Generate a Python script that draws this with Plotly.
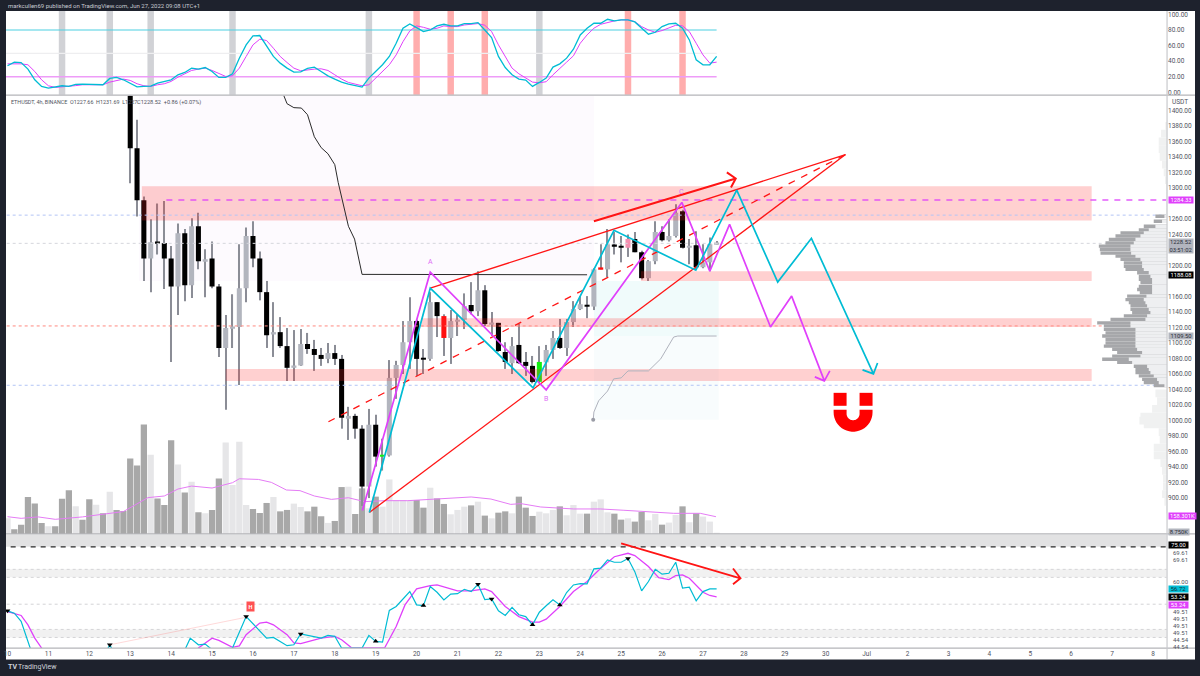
import numpy as np
import plotly.graph_objects as go

# ---------------- data (bar index: 6 bars per day, 0 = Jun 10 00:00) ----------------
first_candle = 18
opens = [1500,1351,1284,1209,1231,1229,1209,1173,1241.5,1174.6,1250.5,1206,1209,1173,1093.6,1119.3,1120.6,1170.7,1238,1209,1165.6,1111,1114,1096,1068,1071,1098.7,1092.3,1084.6,1079.5,1087,1079.5,1003.6,1006,989.5,914.9,994.6,953.5,955,1055,1071.7,1101,1128.3,1080,1079.5,1152.7,1134.7,1106.5,1128,1130,1149,1141,1168,1124.4,1126,1088.4,1074,1097.5,1075.6,1070.5,1049.9,1075,1091,1106.5,1093.6,1127,1143.7,1149,1147,1197,1195,1227,1224.7,1223,1234,1217,1183.6,1205.5,1243,1232.5,1238,1270,1223,1226,1197.7,1204,1227.66]
highs = [1510,1388,1289,1259.5,1280,1283,1225,1254,1247,1261,1268,1221,1231,1176,1136,1163,1227.3,1249,1257,1218,1180,1152.7,1133.4,1119.3,1116.7,1118,1113,1104,1093.6,1100,1097.5,1084.6,1017.7,1008.7,994,1015,1007.5,976.6,1078,1077,1128.3,1159,1130,1092.3,1165.6,1152.7,1137,1142.5,1137,1164,1178.5,1192.6,1174.6,1140,1126,1101,1107.7,1124.4,1088.4,1083.3,1096,1097.5,1115.5,1131,1131,1154,1160.5,1160.5,1196.4,1227.3,1247,1243,1238,1240,1243,1219,1207,1257,1250.5,1259.5,1279,1272,1234,1244,1227.3,1236,1231.69]
lows = [1306,1263,1180,1165.6,1214,1169.5,1075.6,1136,1154,1158,1195,1159,1170.7,1082,1013.9,1093.6,1046,1152.7,1197.7,1155,1093.6,1082,1093.6,1051,1051,1070.5,1086,1064,1070.5,1074,1071.7,989.5,975,976.6,890,900,940.6,935.5,953.5,1028,1060,1066.6,1057.6,1060,1077,1107.7,1083.3,1073,1109,1118,1137,1134.7,1121.9,1109,1088.4,1066.6,1060,1073,1057.6,1048,1048,1057.6,1079.5,1092.3,1083.3,1120.6,1142.5,1132,1142.5,1195,1185,1214,1204,1211,1217,1182,1180,1201.6,1231,1231,1236,1222,1201.6,1195,1196.4,1192.6,1227]
closes = [1351,1284,1209,1230,1229,1209,1173,1241.5,1174.6,1250.5,1205.5,1208,1173,1093.6,1119.3,1120.6,1170.7,1238,1209,1165.6,1110,1114,1096,1068,1071,1098.7,1092.3,1084.6,1079.5,1087,1079.5,1003.6,1006,989.5,914.9,994.6,953.5,955,1055,1071.7,1101,1128.3,1079.5,1078.5,1152.7,1134.7,1106.5,1128.3,1130,1147.6,1141,1168,1124.4,1126,1089.7,1075.6,1096,1074,1070.5,1049.9,1075.6,1091,1106.5,1093.6,1127,1143.7,1150,1147,1195,1195.5,1227.3,1224.7,1223,1234,1217,1183.6,1205.5,1243,1232.5,1238,1268,1223,1225,1197.7,1204,1227.3,1228.52]
special_candles = {64: "#ff1010", 78: "#10f010", 87: "#ff1010", 91: "#f48fb1", 55: "#10f010"}

volumes = [143,43,85,339,278,101,70,70,323,400,253,131,317,268,189,387,220,210,692,628,1003,726,326,265,860,637,381,479,198,189,220,509,839,448,845,265,229,192,284,339,207,220,278,247,207,250,162,101,119,430,433,183,418,235,342,250,500,311,311,311,311,241,424,326,275,180,220,250,262,296,168,143,195,207,189,342,241,165,204,189,220,253,171,265,186,186,296,317,198,186,131,143,113,201,125,183,85,104,174,253,107,189,159,113,5]
volume_light_bars = [0,6,10,13,15,21,25,27,29,32,33,34,35,39,42,43,47,50,53,55,56,57,58,59,62,65,66,67,69,71,74,78,79,80,82,83,84,86,87,88,91,94,95,97,98,100,102,103,104]
vol_ma_x = [0,2,4.5,7,11,14,17,20.6,23,25,27,30,33,34,36.8,38.7,40.9,42.9,45,47.5,50,52.4,55.3,58.7,63.6,68,70.9,73.8,75.3,78.2,83,87,90.4,95.3,97.7,101.6,103.9]
vol_ma_y = [158,143,156,134,156,180,205,333,348,412,439,421,470,506,500,473,403,397,348,317,332,296,305,305,326,339,320,271,278,247,229,229,217,198,189,189,158]

stoch_k = [34,38.7,38.2,29.7,16,7.5,5.3,6.6,8.3,7.5,10,10.5,10.5,10,9.6,17.7,19,16,11.8,7,7.5,7.9,11.8,13.5,16,22.4,25.4,31,29.7,31.8,26.7,19,19,23.7,43.8,60.9,72.4,72.9,58.8,46,37.4,31,25.9,26.3,30.6,32.3,26.7,21.1,16.9,13,10.5,8.3,6.6,18.2,26.7,35.3,46,63,82.3,87.8,83.1,78,80.1,85.3,87.4,85.3,85.3,88.3,88.3,89.5,80.1,70.3,46,31.8,22.4,16.9,15.6,7.5,12.6,18.2,32.3,36.5,43.8,55.3,73.7,82.3,88.7,88.7,93.8,91.7,93,93,90.4,82.3,74.6,77.1,84.4,87.8,88.7,82.3,67.3,41.7,35.3,35.3,46]
stoch_d = [36.5,36.5,36.5,35.3,26.7,16,8.3,6.2,6.8,7.5,8.5,9.6,9.8,10,9.6,13,14.7,16.9,15.2,10.9,8.3,7.5,9.6,10.9,13.9,19.4,23.7,28,29.7,31,28,23.7,20.3,21.2,31,46,60.9,68.2,66.5,56.6,46,38.2,31,27.6,28.9,29.7,30.1,28,22.4,16.9,12.6,10,8.3,9.6,18.6,26.7,35.3,48,65,78.9,85.3,83.5,81,82.3,85.3,84.4,84.4,86.5,87.4,88.3,86.1,78,60.9,46,31,23.7,18.2,13,12.2,13.5,22.4,31,38.7,46.8,63,73.7,82.3,87.4,90,91.7,93,93,90.8,84.4,80.1,77.1,79.3,82.3,86.1,85.3,78,63,48,37.4,38.7]
stoch_levels = [80, 50, 20]
stoch_gray_bars = [8,15,21,33,53,78]
stoch_red_bars = [60,65,70,91,99]

rsi_x = [0,1,2,3,4,10,14.6,15,15.4,20,25,26,26.8,28,29,30,33,35,38,39,41,42,43,46,47,48,49,52,53,54,55,56,57,59,60,61,62,63,64,65,66,67,68,69,70,71,72,73,74,75,76,77,78,79,80,81,82,83,84,85,86,87,88,89,90,91,92,93,94,95,96,97,98,99,100,101,102,103,104]
rsi_v = [47.1,46.1,42.5,33,25,20,30,32.3,30,22,26,30,35.2,32.3,32.6,30.2,30.9,44.6,35.2,35.5,31.9,32.3,37,35.2,36.4,36,30.9,30.9,36.4,33.8,33.5,47.3,49,55.5,49.7,49.4,57.7,55.2,51.9,54.4,54.6,56.5,55.5,58.7,52,52.3,47.1,45.1,48.6,45.4,44.6,41,46.5,49.3,51.9,49.7,55.1,58.4,59,58.9,65.4,65.7,69.3,68.3,68.3,69.9,64.2,55.8,59.9,65.2,63.1,63.5,68.3,57,57.4,51.5,55.5,56.7,56.72]
rsi_ma_x = [0,2,3,4,5,6,27,28,30,31,33,34,35,37,38,39,41,42,43,46,48,49,50.5,55.3,57,58.3,60,62,63,66,68,70,71,73,75,77,78,79,81,83,85,87,89,91,92,94,95.5,97,98,99,100,102,103,104]
rsi_ma_v = [46.8,45.1,41,35.2,30.9,25,25,30.9,35.2,34.2,31.2,31.8,36.7,41.8,42.2,41,36.7,33.1,32.8,35.2,36,34.5,30.9,30.9,40.3,49.7,56.7,58.1,58.4,55.8,55.8,56.7,55.5,49,44.6,42.2,42.2,43.5,49,55.5,59.9,65.7,70.7,72.2,71.2,66.4,61.6,60.7,62.5,62.8,61.3,55.2,53.8,53.24]
pivot_down_x = [0,15,35,43,69,71,91]
pivot_down_y = [47.1,32.3,44.6,37,58.7,52.3,69.9]
pivot_up_x = [54,61,77,81]
pivot_up_y = [33.8,49.4,41,49.7]

# volume profile: price rows, light and dark widths
vp_price = [1263.5,1257,1250.6,1246,1242,1238,1233.6,1229,1225,1220.6,1216,1212,1208,1203.4,1199,1195,1190.6,1186,1182,1178,1173,1169,1165,1160.5,1156,1152,1148,1143.4,1139,1135,1130.5,1126,1122,1117.6,1113,1109,1104.7,1100,1096,1092,1088,1083,1079,1075,1070,1066,1062,1057.6,1053,1049,1045]
vp_light = [8,15,35,55,70,80,95,100,110,110,108,95,80,75,75,70,55,50,45,45,45,45,45,62,70,65,60,55,50,60,65,110,110,95,95,95,95,95,95,90,75,80,115,105,60,55,50,40,30,25,8]
vp_dark = [27,25,35,30,70,75,80,85,95,92,92,60,60,55,55,55,35,35,40,35,40,45,37,58,55,50,50,55,55,70,105,100,80,95,90,100,90,90,95,75,75,85,80,45,40,40,45,45,45,45,32]
vp_hi_price = [1380,1370,1360,1350,1340,1330,1320,1310,1300,1290,1280,1270,1035,1025,1015,1005,1000,995,985,975,965,955,945,935,925,915,905,895,885]
vp_hi_light = [5,18,25,25,22,15,10,6,2,2,2,2,35,30,45,80,83,70,25,22,40,40,20,15,12,12,15,8,2]

# price levels, zones and hand drawings
price_ticks = [1400,1380,1360,1340,1320,1300,1260,1240,1200,1160,1140,1120,1100,1080,1060,1040,1020,1000,980,960,940,920,900]
zones = [(19.7,159,1258,1302),(92.9,159,1180,1192.6),(60.7,159,1120.6,1132),(32,159,1051,1066.6)]
level_lines = [(1264.9,"#b3c5f5"),(1228.5,"#d5d6dc"),(1122,"#ff8a80"),(1045.5,"#b3c5f5")]
vwap_x = [40.3,41,42,43.1,44,45,46,47,48,48.5,50,50.9,52,85]
vwap_y = [1424,1408.6,1403.5,1403,1394.4,1366,1352,1344,1330,1307,1250.5,1234,1188.5,1188]
gray_x = [85.9,86,86.7,88,88.9,90,91,94,95.8,97.7,98.3,104]
gray_y = [1001,1011,1025.5,1038,1053.7,1055,1064,1064,1079.5,1107.7,1109,1109]
wave_cyan_x = [53.07,62,77.08,88.95,100.95,106.95,112.96,117.9,127,125.4,127,127.6]
wave_cyan_y = [881.5,1170.7,1042.2,1245.3,1193.9,1297.1,1178.5,1235,1060.2,1065.3,1060.2,1074.3]
wave_mag_x = [52.05,62,79,98.9,103,105.9,111.9,115,119.8,118.4,119.8,120.6]
wave_mag_y = [884,1191.3,1039.6,1281.3,1192.6,1253,1120.6,1160.5,1051.2,1056.3,1051.2,1064]
wedge_apex = (122.9,1343)

day_ticks = list(range(0,21*6+1,6))+[126+6*k for k in range(1,8)]
day_text = [str(d) for d in range(10,31)]+["Jul"]+[str(d) for d in range(2,9)]

# ---------------- figure ----------------
W,H = 1200,676
XL,XR = 4,1167
fy = lambda y: 1-y/H
fig = go.Figure()

# volume (base plot of price pane)
vc = ["#e6e6e8" if i in volume_light_bars else "#a8a8a8" for i in range(len(volumes))]
fig.add_bar(x=list(range(len(volumes))), y=volumes, marker=dict(color=vc,line_width=0), width=0.92, xaxis="x", yaxis="y2")
fig.add_scatter(x=vol_ma_x,y=vol_ma_y,mode="lines",line=dict(color="#e57cf5",width=1),xaxis="x",yaxis="y2")

# stoch pane
fig.add_bar(x=stoch_gray_bars,y=[112]*len(stoch_gray_bars),base=-6,width=0.95,marker=dict(color="rgba(120,123,134,0.34)",line_width=0),xaxis="x",yaxis="y")
fig.add_bar(x=stoch_red_bars,y=[112]*len(stoch_red_bars),base=-6,width=0.95,marker=dict(color="rgba(255,60,60,0.42)",line_width=0),xaxis="x",yaxis="y")
for lv,c,w in zip(stoch_levels,["#4dd0e1","#eeeef0","#ee9cf8"],[1.2,1.2,1.6]):
    fig.add_scatter(x=[-1,104],y=[lv,lv],mode="lines",line=dict(color=c,width=w),xaxis="x",yaxis="y")
idx = list(range(len(stoch_k)))
fig.add_scatter(x=idx,y=stoch_d,mode="lines",line=dict(color="#e040fb",width=1),xaxis="x",yaxis="y")
fig.add_scatter(x=idx,y=stoch_k,mode="lines",line=dict(color="#00bcd4",width=1.3),xaxis="x",yaxis="y")

# candles
ci = [first_candle+k for k in range(len(opens))]
colors = []
for i,o,c in zip(ci,opens,closes):
    colors.append(special_candles.get(i, "#000000" if c<o else "#b2b5be"))
body_lo = [min(o,c) for o,c in zip(opens,closes)]
body_h = [max(abs(o-c),2.0) for o,c in zip(opens,closes)]
fig.add_bar(x=ci,y=[h-l for h,l in zip(highs,lows)],base=lows,width=0.16,marker=dict(color="#8b8d96",line_width=0),xaxis="x",yaxis="y3")
fig.add_bar(x=ci,y=body_h,base=body_lo,width=0.74,marker=dict(color=colors,line_width=0),xaxis="x",yaxis="y3")

# zones over candles
for x0,x1,p0,p1 in zones:
    fig.add_scatter(x=[x0,x1,x1,x0,x0],y=[p0,p0,p1,p1,p0],mode="lines",fill="toself",fillcolor="rgba(255,40,40,0.22)",line_width=0,xaxis="x",yaxis="y3")
for p,c in level_lines:
    fig.add_scatter(x=[-1,171],y=[p,p],mode="lines",line=dict(color=c,width=1,dash="dot"),xaxis="x",yaxis="y3")
fig.add_scatter(x=[23.3,171],y=[1284.33,1284.33],mode="lines",line=dict(color="#e040fb",width=1.6,dash="6px,6px"),opacity=0.85,xaxis="x",yaxis="y3")
fig.add_scatter(x=vwap_x,y=vwap_y,mode="lines",line=dict(color="#2a2a2a",width=1),xaxis="x",yaxis="y3")
fig.add_scatter(x=gray_x,y=gray_y,mode="lines",line=dict(color="#b0b3bd",width=1),xaxis="x",yaxis="y3")
fig.add_scatter(x=gray_x[:1],y=gray_y[:1],mode="markers",marker=dict(color="#9a9ca6",size=4),xaxis="x",yaxis="y3")

# red drawings
red = "#ff1414"
fig.add_scatter(x=[53.07,wedge_apex[0]],y=[881.5,wedge_apex[1]],mode="lines",line=dict(color=red,width=1.3),xaxis="x",yaxis="y3")
fig.add_scatter(x=[62,wedge_apex[0]],y=[1170.7,wedge_apex[1]],mode="lines",line=dict(color=red,width=1.3),xaxis="x",yaxis="y3")
fig.add_scatter(x=[47.07,wedge_apex[0]],y=[998.5,wedge_apex[1]],mode="lines",line=dict(color=red,width=1.3,dash="7px,7px"),xaxis="x",yaxis="y3")
fig.add_scatter(x=[86,106.8,105.5,106.8,106.1],y=[1257,1312.2,1320,1312.2,1300.6],mode="lines",line=dict(color=red,width=2),xaxis="x",yaxis="y3")
fig.add_scatter(x=wave_mag_x,y=wave_mag_y,mode="lines",line=dict(color="#e040fb",width=1.7),xaxis="x",yaxis="y3")
fig.add_scatter(x=wave_cyan_x,y=wave_cyan_y,mode="lines",line=dict(color="#00bcd4",width=1.7),xaxis="x",yaxis="y3")

# volume profile
fig.add_bar(y=vp_price,x=[a+b for a,b in zip(vp_light,vp_dark)],orientation="h",width=4.3,marker=dict(color="#a6a7aa",line_width=0),xaxis="x4",yaxis="y3")
fig.add_bar(y=vp_price,x=vp_light,orientation="h",width=4.3,marker=dict(color="#eeeff1",line_width=0),xaxis="x4",yaxis="y3")
fig.add_bar(y=vp_hi_price,x=vp_hi_light,orientation="h",width=10,marker=dict(color="#f0f1f1",line_width=0),xaxis="x4",yaxis="y3")

# RSI pane
for top,bot,c in [(80.5,75,"#e2e2e3"),(65.2,61.7,"#f1f1f1"),(39,35.5,"#f1f1f1")]:
    fig.add_scatter(x=[-1,170,170,-1,-1],y=[bot,bot,top,top,bot],mode="lines",fill="toself",fillcolor=c,line_width=0,xaxis="x",yaxis="y4")
for lv in [65.2,61.7,50,39,35.5]:
    fig.add_scatter(x=[-1,170],y=[lv,lv],mode="lines",line=dict(color="#d4d4d6",width=1,dash="dot"),xaxis="x",yaxis="y4")
fig.add_scatter(x=[-1,170],y=[75,75],mode="lines",line=dict(color="#2a2a2a",width=1.2,dash="5px,5px"),xaxis="x",yaxis="y4")
fig.add_scatter(x=[15,35],y=[32.3,44.3],mode="lines",line=dict(color="rgba(255,82,82,0.22)",width=1),xaxis="x",yaxis="y4")
fig.add_scatter(x=rsi_ma_x,y=rsi_ma_v,mode="lines",line=dict(color="#e040fb",width=1.3),xaxis="x",yaxis="y4")
fig.add_scatter(x=rsi_x,y=rsi_v,mode="lines",line=dict(color="#00bcd4",width=1.2),xaxis="x",yaxis="y4")
fig.add_scatter(x=pivot_down_x,y=pivot_down_y,mode="markers",marker=dict(symbol="triangle-down",color="#000",size=5),xaxis="x",yaxis="y4")
fig.add_scatter(x=pivot_up_x,y=pivot_up_y,mode="markers",marker=dict(symbol="triangle-up",color="#000",size=5),xaxis="x",yaxis="y4")
fig.add_scatter(x=[90,107.5,106.4,107.5,106.4],y=[76.5,61.3,65.6,61.3,58.7],mode="lines",line=dict(color=red,width=1.8),xaxis="x",yaxis="y4")

# magnet (decoration placed in pixel space on paper)
px = lambda x: x/W
def arc(cx,cy,r,a0,a1,n=24):
    t = np.radians(np.linspace(a0,a1,n))
    return [(cx+r*np.cos(a),cy+r*np.sin(a)) for a in t]
pts = [(833,411)]+arc(852.5,413.5,19.5,180,0)[0:0]+[(cx,cy) for cx,cy in arc(852.5,413.5,19.5,180,0)]+[(872,411),(859,411)]+arc(852.5,415,6.5,0,180)+[(846,411)]
magnet = "M "+" L ".join(f"{px(x):.5f},{fy(y):.5f}" for x,y in pts)+" Z"
shapes = [
    dict(type="rect",xref="paper",yref="paper",x0=XL/W,x1=1195/W,y0=fy(661.5),y1=fy(11),fillcolor="#ffffff",line_width=0,layer="below"),
    dict(type="rect",xref="x",yref="y3",x0=19.3,x1=86,y0=1180,y1=1419,fillcolor="#fdfafe",line_width=0,layer="below"),
    dict(type="rect",xref="x",yref="y3",x0=86,x1=104.3,y0=1109,y1=1180,fillcolor="#f0fbfb",line_width=0,layer="below"),
    dict(type="rect",xref="x",yref="y3",x0=86,x1=104.3,y0=1001,y1=1109,fillcolor="#f8fcfd",line_width=0,layer="below"),
    dict(type="path",xref="paper",yref="paper",path=magnet,fillcolor="#ff0000",line_width=0),
    dict(type="rect",xref="paper",yref="paper",x0=833/W,x1=846/W,y0=fy(407),y1=fy(394),fillcolor="#ff0000",line_width=0),
    dict(type="rect",xref="paper",yref="paper",x0=859/W,x1=872/W,y0=fy(407),y1=fy(394),fillcolor="#ff0000",line_width=0),
]
for y in [95.5,535.5,650]:
    shapes.append(dict(type="line",xref="paper",yref="paper",x0=XL/W,x1=1195/W,y0=fy(y),y1=fy(y),line=dict(color="#b4b5b9",width=1.2)))
shapes.append(dict(type="line",xref="paper",yref="paper",x0=XR/W,x1=XR/W,y0=fy(661),y1=fy(11),line=dict(color="#c8c9cc",width=1.2)))

FONT = "Roboto"
ann = []
def note(text,x,y,size=6,color="#50535e",anchor="left",**kw):
    ann.append(dict(text=text,x=x/W,y=fy(y),xref="paper",yref="paper",xanchor=anchor,yanchor="middle",showarrow=False,font=dict(size=size,color=color,family=FONT),**kw))
note("markcullen69 published on TradingView.com, Jun 27, 2022 09:08 UTC+1",4,6,6,"#c9cbd2")
note("ETHUSDT, 4h, BINANCE  O1227.66  H1231.69  L1227.",7,102.5,5.4,"#50535e")
note("C1228.52&nbsp;&nbsp;+0.86 (+0.07%)",133,102.5,5.6,"#50535e")
note("<b>TV</b>",4,669,7,"#d1d4dc")
note("TradingView",14,669,7,"#d1d4dc")
def tag(text,y,bg,fg="#ffffff",w=24):
    ann.append(dict(text=text,x=1167.5/W,y=fy(y),xref="paper",yref="paper",xanchor="left",yanchor="middle",showarrow=False,bgcolor=bg,width=w,borderpad=0,align="center",font=dict(size=5.8,color=fg,family=FONT)))
tag("1284.33",201,"#e040fb")
tag("1228.52<br>03:51:02",247,"#b2b5be","#2a2e39")
tag("1188.08",276,"#000000")
tag("1109.50",337,"#b2b5be","#2a2e39")
tag("158.301K",518,"#e040fb",w=27)
tag("8.750K",534,"#b2b5be","#2a2e39",w=20)
tag("75.00",547,"#000000",w=19)
tag("56.72",591,"#00bcd4",fg="#12343a",w=19)
tag("53.24",599,"#000000",w=19)
tag("53.24",606.5,"#e040fb",w=19)
note("USDT",1170,102,6.5,"#50535e")
for txt,y in [("69.61",554),("69.61",561),("60.00",583),("49.51",613),("49.51",620),("49.51",627),("49.51",634),("44.54",641),("44.54",648)]:
    note(txt,1171,y,6,"#50535e")
for t,x,y in [("A",429,263),("B",545,400),("C",681,193)]:
    note(t,x,y,7,"#e06cf5",anchor="center")
ann.append(dict(text="<b>H</b>",x=244.3/W,y=fy(613.7),xref="paper",yref="paper",showarrow=False,bgcolor="#ff5252",borderpad=1.5,font=dict(size=5.5,color="#fff",family=FONT)))

tickfont = dict(size=6.5,color="#50535e",family=FONT)
xr = [(XL-5.5)/6.83,(XR-5.5)/6.83]
layout = dict(
    width=W,height=H,margin=dict(l=0,r=0,t=0,b=0),autosize=False,
    paper_bgcolor="#1e222d",plot_bgcolor="rgba(0,0,0,0)",showlegend=False,barmode="overlay",hovermode=False,
    shapes=shapes,annotations=ann,font=dict(family=FONT),
    xaxis=dict(domain=[XL/W,XR/W],range=xr,anchor="y4",tickvals=day_ticks,ticktext=day_text,tickfont=tickfont,ticks="",showgrid=False,zeroline=False,showline=False,ticklen=0),
    xaxis4=dict(overlaying="x",anchor="y3",range=[(XR-XL)*3,0],visible=False),
    yaxis=dict(domain=[fy(95),fy(11)],range=[-3.2,104.5],side="right",anchor="x",tickvals=[0,20,40,60,80,100],tickformat=".2f",tickfont=tickfont,showgrid=False,zeroline=False,ticks=""),
    yaxis2=dict(domain=[fy(535.5),fy(96)],range=[0,4021],anchor="x",visible=False),
    yaxis3=dict(overlaying="y2",range=[853.8,1418.9],side="right",anchor="x",tickvals=price_ticks,tickformat=".2f",tickfont=tickfont,showgrid=False,zeroline=False,ticks=""),
    yaxis4=dict(domain=[fy(650),fy(536)],range=[30.87,80.43],side="right",anchor="x",showticklabels=False,showgrid=False,zeroline=False,ticks=""),
)
fig.update_layout(**layout)
fig.update_traces(hoverinfo="skip",cliponaxis=True,selector=dict(type="bar"))
fig.update_traces(hoverinfo="skip",selector=dict(type="scatter"))
fig.write_html("out.html",config=dict(displayModeBar=False),post_script="document.body.style.margin='0';")
